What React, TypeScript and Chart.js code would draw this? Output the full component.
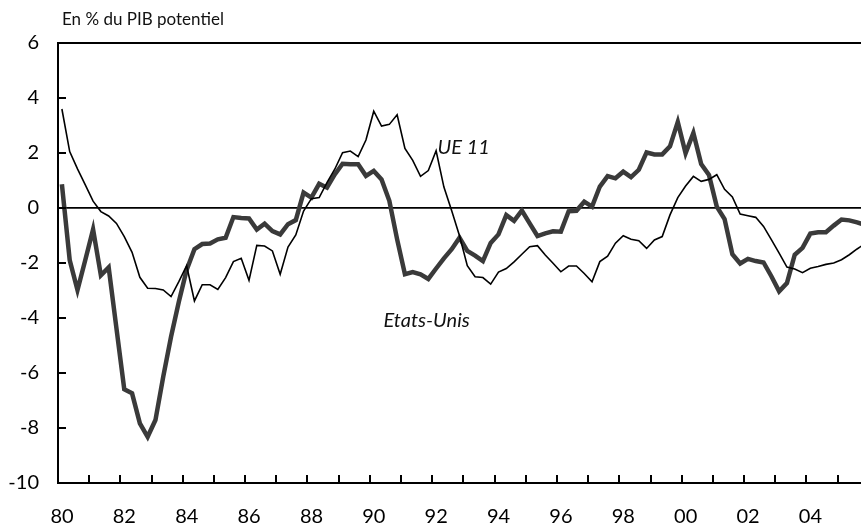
import React, { useEffect, useRef } from 'react';
import { Chart, registerables } from 'chart.js';

Chart.register(...registerables);

// Quarterly data, 1980 Q1 -> 2005 Q4 (output gap, % of potential GDP)
const START_YEAR = 1980;

const ue11Values = [
  3.60, 2.05, 1.42, 0.84, 0.25, -0.13, -0.29, -0.56, -1.04, -1.61,
  -2.52, -2.92, -2.93, -2.98, -3.22, -2.68, -2.10, -3.38, -2.79, -2.79,
  -2.96, -2.53, -1.95, -1.83, -2.63, -1.36, -1.38, -1.56, -2.41, -1.42,
  -0.98, -0.11, 0.34, 0.38, 0.92, 1.41, 2.01, 2.07, 1.87, 2.47,
  3.52, 2.98, 3.04, 3.39, 2.17, 1.73, 1.15, 1.36, 2.08, 0.76,
  -0.10, -1.01, -2.10, -2.50, -2.53, -2.77, -2.33, -2.20, -1.96, -1.68,
  -1.41, -1.37, -1.71, -2.01, -2.32, -2.11, -2.11, -2.38, -2.68, -1.95,
  -1.75, -1.28, -1.01, -1.14, -1.19, -1.47, -1.16, -1.04, -0.25, 0.38,
  0.80, 1.15, 0.97, 1.04, 1.21, 0.68, 0.40, -0.22, -0.28, -0.34,
  -0.67, -1.15, -1.64, -2.15, -2.22, -2.35, -2.19, -2.13, -2.05, -2.00,
  -1.88, -1.70, -1.49, -1.30,
];

const usValues = [
  0.86, -1.89, -2.98, -1.89, -0.78, -2.45, -2.16, -4.38, -6.59, -6.74,
  -7.83, -8.32, -7.71, -6.13, -4.68, -3.41, -2.25, -1.50, -1.31, -1.29,
  -1.14, -1.08, -0.33, -0.36, -0.38, -0.78, -0.57, -0.84, -0.96, -0.59,
  -0.44, 0.56, 0.38, 0.88, 0.74, 1.22, 1.61, 1.59, 1.59, 1.17,
  1.35, 1.04, 0.26, -1.14, -2.41, -2.33, -2.41, -2.58, -2.20, -1.83,
  -1.50, -1.08, -1.56, -1.73, -1.93, -1.27, -0.96, -0.26, -0.47, -0.09,
  -0.56, -1.02, -0.92, -0.85, -0.86, -0.12, -0.10, 0.23, 0.05, 0.78,
  1.16, 1.08, 1.32, 1.12, 1.39, 2.02, 1.95, 1.95, 2.24, 3.13,
  1.99, 2.73, 1.60, 1.20, 0.05, -0.40, -1.68, -2.02, -1.85, -1.93,
  -1.98, -2.48, -3.03, -2.73, -1.70, -1.45, -0.93, -0.88, -0.88, -0.64,
  -0.42, -0.45, -0.52, -0.62,
];

const xTickYears = [1980, 1982, 1984, 1986, 1988, 1990, 1992, 1994, 1996, 1998, 2000, 2002, 2004];
const xTickLabels = ['80', '82', '84', '86', '88', '90', '92', '94', '96', '98', '00', '02', '04'];
const yTickValues = [-10, -8, -6, -4, -2, 0, 2, 4, 6];

const unitLabel = 'En % du PIB potentiel';
const ueName = 'UE 11';
const usName = 'Etats-Unis';
// label anchors (data coordinates: year, value) for the in-chart series names
const ueLabelAnchor = [1992.17, 2.2];
const usLabelAnchor = [1990.44, -4.1];

const FONT = 'Lato, "Open Sans", sans-serif';

function toPoints(values: number[]) {
  return values.map((v, i) => ({ x: START_YEAR + (i + 0.5) / 4, y: v }));
}

const decorations = {
  id: 'decorations',
  afterDatasetsDraw(chart: any) {
    const { ctx, chartArea, scales } = chart;
    const xs = scales.x;
    const ys = scales.y;
    ctx.save();
    // top frame line
    ctx.strokeStyle = '#000';
    ctx.lineWidth = 2;
    ctx.beginPath();
    ctx.moveTo(chartArea.left, chartArea.top);
    ctx.lineTo(chartArea.right, chartArea.top);
    ctx.stroke();
    // inward tick marks on x axis (every year)
    ctx.lineWidth = 2;
    xs.ticks.forEach((t: any) => {
      const px = Math.round(xs.getPixelForValue(t.value));
      ctx.beginPath();
      ctx.moveTo(px, chartArea.bottom);
      ctx.lineTo(px, chartArea.bottom - 8);
      ctx.stroke();
    });
    // inward tick marks on y axis
    ys.ticks.forEach((t: any) => {
      const py = Math.round(ys.getPixelForValue(t.value));
      ctx.beginPath();
      ctx.moveTo(chartArea.left, py);
      ctx.lineTo(chartArea.left + 8, py);
      ctx.stroke();
    });
    // series labels
    ctx.fillStyle = '#111';
    ctx.font = `italic 20px ${FONT}`;
    ctx.textAlign = 'left';
    ctx.textBaseline = 'middle';
    ctx.fillText(ueName, xs.getPixelForValue(ueLabelAnchor[0]), ys.getPixelForValue(ueLabelAnchor[1]));
    ctx.fillText(usName, xs.getPixelForValue(usLabelAnchor[0]), ys.getPixelForValue(usLabelAnchor[1]));
    // unit label
    ctx.font = `17px ${FONT}`;
    ctx.fillText(unitLabel, 62, 20);
    ctx.restore();
  },
};

export default function App() {
  const canvasRef = useRef<HTMLCanvasElement | null>(null);

  useEffect(() => {
    document.body.style.margin = '0';
    const canvas = canvasRef.current;
    if (!canvas) return;
    const chart = new Chart(canvas, {
      type: 'line',
      data: {
        datasets: [
          {
            label: ueName,
            data: toPoints(ue11Values),
            borderColor: '#000000',
            borderWidth: 1.6,
            pointRadius: 0,
            tension: 0,
            order: 0,
          },
          {
            label: usName,
            data: toPoints(usValues),
            borderColor: '#3a3a3a',
            borderWidth: 4.5,
            pointRadius: 0,
            tension: 0,
            order: 1,
          },
        ],
      },
      plugins: [decorations],
      options: {
        animation: false,
        responsive: false,
        devicePixelRatio: 1,
        layout: { padding: { top: 43, left: 0, right: 0, bottom: 0 } },
        plugins: {
          legend: { display: false },
          tooltip: { enabled: false },
          title: { display: false },
        },
        scales: {
          x: {
            type: 'linear',
            min: START_YEAR,
            max: 2005.75,
            afterFit: (scale: any) => {
              scale.height = 46;
            },
            border: { display: true, color: '#000', width: 2 },
            grid: { display: false, drawTicks: false },
            ticks: {
              stepSize: 1,
              includeBounds: false,
              autoSkip: false,
              maxRotation: 0,
              minRotation: 0,
              padding: 22,
              labelOffset: 4,
              color: '#000',
              font: { family: FONT, size: 20 },
              callback: (value: any) => {
                const idx = xTickYears.indexOf(Number(value));
                return idx >= 0 ? xTickLabels[idx] : '';
              },
            },
          },
          y: {
            min: -10,
            max: 6,
            afterFit: (scale: any) => {
              scale.width = 58;
            },
            afterBuildTicks: (scale: any) => {
              scale.ticks = yTickValues.map((v) => ({ value: v }));
            },
            border: { display: true, color: '#000', width: 2 },
            grid: {
              drawTicks: false,
              lineWidth: 1.8,
              color: (c: any) => (c.tick && c.tick.value === 0 ? '#000' : 'rgba(0,0,0,0)'),
            },
            ticks: {
              padding: 19,
              color: '#000',
              font: { family: FONT, size: 20 },
              callback: (value: any) => String(value),
            },
          },
        },
      },
    } as any);
    return () => chart.destroy();
  }, []);

  return (
    <div style={{ position: 'absolute', left: 0, top: 0, width: 861, height: 529 }}>
      <canvas ref={canvasRef} width={861} height={529} style={{ display: 'block' }} />
    </div>
  );
}
